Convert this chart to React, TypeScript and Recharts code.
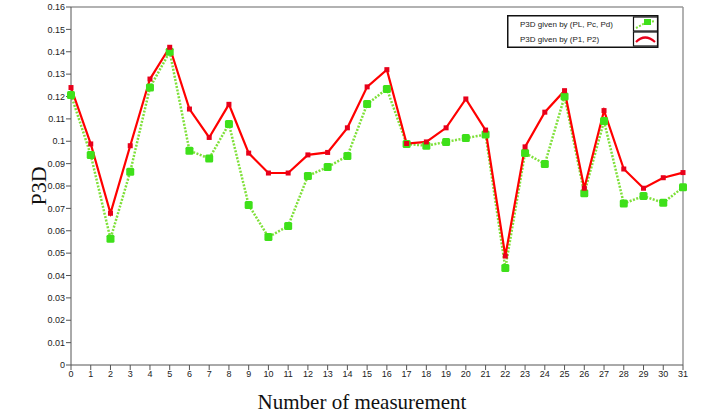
import React from "react";
import {
    LineChart,
    Line,
    XAxis,
    YAxis,
    Legend,
    Label,
    ReferenceLine
} from "recharts";

const measurements = [
    0, 1, 2, 3, 4, 5, 6, 7, 8, 9, 10, 11, 12, 13, 14, 15,
    16, 17, 18, 19, 20, 21, 22, 23, 24, 25, 26, 27, 28, 29, 30, 31
];

// P3D given by (PL, Pc, Pd)
const greenValues = [
    0.1207, 0.0939, 0.0564, 0.0864, 0.124, 0.140, 0.0958, 0.0923,
    0.1077, 0.0715, 0.0572, 0.0621, 0.0845, 0.0885, 0.0934, 0.1166,
    0.1234, 0.0988, 0.098, 0.0997, 0.1014, 0.103, 0.0433, 0.0948,
    0.0898, 0.120, 0.0768, 0.109, 0.0722, 0.0755, 0.0725, 0.0794
];

// P3D given by (P1, P2)
const redValues = [
    0.124, 0.0988, 0.0678, 0.098, 0.1278, 0.142, 0.1144, 0.1017,
    0.1165, 0.0947, 0.0858, 0.0858, 0.0939, 0.095, 0.106, 0.1243,
    0.132, 0.099, 0.0997, 0.106, 0.1189, 0.105, 0.0487, 0.0975,
    0.113, 0.1226, 0.079, 0.1137, 0.0876, 0.079, 0.0837, 0.086
];

const yTicks = [
    0, 0.01, 0.02, 0.03, 0.04, 0.05, 0.06, 0.07, 0.08,
    0.09, 0.1, 0.11, 0.12, 0.13, 0.14, 0.15, 0.16
];

const seriesOrder = ["green", "red"];

const data = measurements.map((n, i) => ({
    n,
    green: greenValues[i],
    red: redValues[i]
}));

const tickStyle = { fontFamily: "Liberation Sans, Arial, sans-serif", fontSize: 9, fill: "#222" };
const labelFont = "Liberation Serif, Times New Roman, serif";

const GreenDot = (props: any) => {
    const { cx, cy, index } = props;
    if (cx == null || cy == null) return null;
    return <rect key={"g" + index} x={cx - 4} y={cy - 4} width={8} height={8} rx={1.5} fill="#3ee01a" />;
};

const RedDot = (props: any) => {
    const { cx, cy, index } = props;
    if (cx == null || cy == null) return null;
    return <rect key={"r" + index} x={cx - 2.5} y={cy - 2.5} width={5} height={5} fill="#e8001a" />;
};

const renderLegend = (props: any) => {
    const items = [...(props.payload || [])].sort(
        (a: any, b: any) => seriesOrder.indexOf(a.dataKey) - seriesOrder.indexOf(b.dataKey)
    );
    return (
        <svg width={152} height={34} style={{ display: "block" }}>
            <rect x={0.75} y={0.75} width={150} height={31.5} fill="#fff" stroke="#111" strokeWidth={1.5} />
            {items.map((item: any, i: number) => {
                const top = 2 + i * 15;
                const isGreen = item.dataKey === "green";
                return (
                    <g key={item.value}>
                        <text x={13} y={top + 9.5} fontFamily="Liberation Sans, Arial, sans-serif" fontSize={8} fill="#222">
                            {item.value}
                        </text>
                        <rect x={126.5} y={top} width={24} height={14} fill="#fff" stroke="#111" strokeWidth={1.2} />
                        {isGreen ? (
                            <g>
                                <path d={`M129,${top + 11} L140,${top + 5} L148,${top + 4}`} stroke="#7fe03a" strokeWidth={2} strokeDasharray="2 1.5" fill="none" />
                                <rect x={137} y={top + 2} width={7} height={6} fill="#3ee01a" />
                            </g>
                        ) : (
                            <path d={`M129,${top + 10} Q138,${top + 1} 148,${top + 10}`} stroke="#e8001a" strokeWidth={2.2} fill="none" />
                        )}
                    </g>
                );
            })}
        </svg>
    );
};

const App = () => {
    return (
        <div style={{ position: "absolute", left: 0, top: 0, background: "#fff" }}>
            <LineChart
                width={706}
                height={415}
                data={data}
                margin={{ top: 7, right: 23, left: 25, bottom: 0 }}
            >
                <XAxis
                    dataKey="n"
                    type="number"
                    domain={[0, 31]}
                    ticks={measurements}
                    interval={0}
                    height={50}
                    stroke="#555"
                    tick={tickStyle}
                    tickSize={5}
                    tickMargin={1}
                >
                    <Label
                        value="Number of measurement"
                        position="insideBottom"
                        offset={6}
                        dx={-15}
                        style={{ fontFamily: labelFont, fontSize: 21, fill: "#111" }}
                    />
                </XAxis>
                <YAxis
                    type="number"
                    domain={[0, 0.16]}
                    ticks={yTicks}
                    interval={0}
                    width={46}
                    stroke="#555"
                    tick={tickStyle}
                    tickSize={5}
                    tickMargin={1}
                    tickFormatter={(v: number) => String(v)}
                >
                    <Label
                        value="P3D"
                        angle={-90}
                        position="center"
                        dx={-10}
                        style={{ fontFamily: labelFont, fontSize: 22, fill: "#111" }}
                    />
                </YAxis>
                <ReferenceLine y={0.16} stroke="#999" strokeWidth={1.5} />
                <ReferenceLine x={31} stroke="#999" strokeWidth={1.5} />
                <Legend
                    layout="horizontal"
                    verticalAlign="middle"
                    align="center"
                    content={renderLegend}
                    wrapperStyle={{ position: "absolute", left: 507, top: 15, width: 152, height: 34 }}
                />
                <Line
                    dataKey="green"
                    name="P3D given by (PL, Pc, Pd)"
                    type="linear"
                    stroke="#7fe03a"
                    strokeWidth={2.5}
                    strokeDasharray="2 1.5"
                    dot={GreenDot}
                    activeDot={false}
                    isAnimationActive={false}
                />
                <Line
                    dataKey="red"
                    name="P3D given by (P1, P2)"
                    type="linear"
                    stroke="#ff0000"
                    strokeWidth={2.2}
                    dot={RedDot}
                    activeDot={false}
                    isAnimationActive={false}
                />
            </LineChart>
        </div>
    );
};

export default App;
